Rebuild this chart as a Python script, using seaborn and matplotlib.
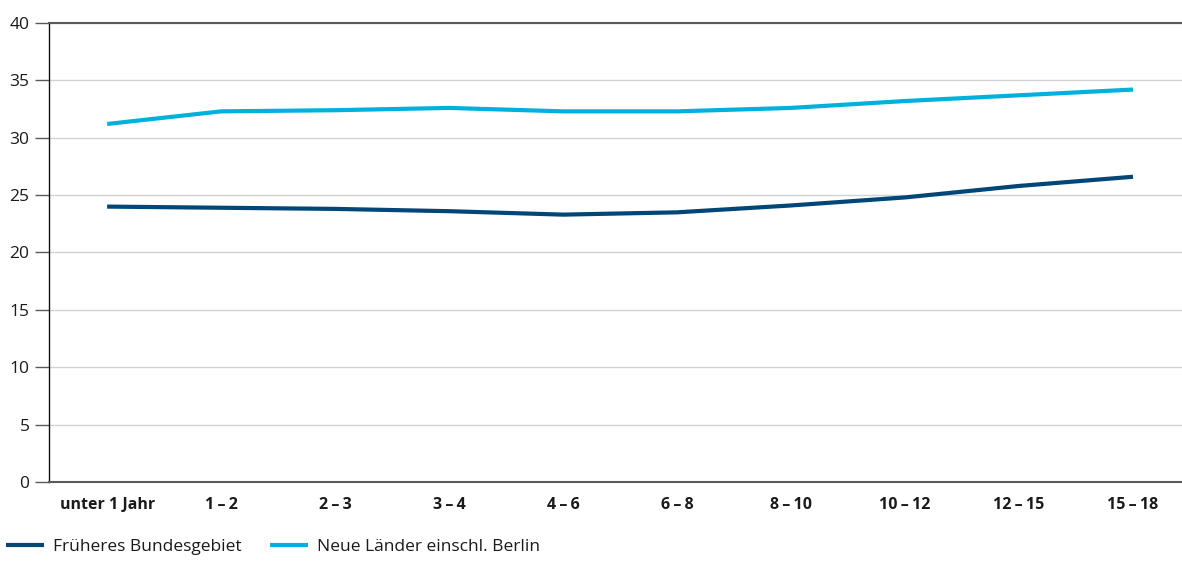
import matplotlib
matplotlib.use("Agg")
import matplotlib.pyplot as plt
import seaborn as sns
import pandas as pd

categories = ["unter 1 Jahr", "1\u2009\u2013\u20092", "2\u2009\u2013\u20093", "3\u2009\u2013\u20094",
              "4\u2009\u2013\u20096", "6\u2009\u2013\u20098", "8\u2009\u2013\u200910",
              "10\u2009\u2013\u200912", "12\u2009\u2013\u200915", "15\u2009\u2013\u200918"]
frueheres = [24.0, 23.9, 23.8, 23.6, 23.3, 23.5, 24.1, 24.8, 25.8, 26.6]
neue = [31.2, 32.3, 32.4, 32.6, 32.3, 32.3, 32.6, 33.2, 33.7, 34.2]
series_names = ["Früheres Bundesgebiet", "Neue Länder einschl. Berlin"]
yticks = [0, 5, 10, 15, 20, 25, 30, 35, 40]

df = pd.DataFrame({
    "Alter": categories * 2,
    "Wert": frueheres + neue,
    "Serie": [series_names[0]] * len(categories) + [series_names[1]] * len(categories),
})

sns.set_theme(style="white")
plt.rcParams["font.family"] = ["Open Sans", "DejaVu Sans"]

fig = plt.figure(figsize=(11.82, 5.61), dpi=100)
ax = fig.add_axes([49 / 1182, 79 / 561, 1 - 49 / 1182, (482 - 23) / 561])

palette = {series_names[0]: "#004676", series_names[1]: "#00b1dc"}
sns.lineplot(data=df, x="Alter", y="Wert", hue="Serie", palette=palette,
             linewidth=3.0, sort=False, ax=ax, legend=False)
for ln in ax.get_lines():
    ln.set_solid_capstyle("butt")

ax.set_ylim(0, 40)
ax.set_yticks(yticks)
ax.set_xlim(-0.51, 9.43)
ax.set_xlabel("")
ax.set_ylabel("")
ax.yaxis.grid(True, color="#d0d3d6", linewidth=1.0)
ax.set_axisbelow(True)

for s in ["top", "bottom"]:
    ax.spines[s].set_color("#5a5a5a")
    ax.spines[s].set_linewidth(1.5)
ax.spines["left"].set_color("#111111")
ax.spines["left"].set_linewidth(1.0)
ax.spines["right"].set_visible(False)

ax.tick_params(axis="y", direction="out", length=10, width=1, color="#5a5a5a",
               labelsize=12.5, labelcolor="#1a1a1a", pad=4, left=True)
ax.tick_params(axis="x", length=0, labelsize=11.5, labelcolor="#1a1a1a", pad=11)
for lbl in ax.get_xticklabels():
    lbl.set_fontweight("bold")

from matplotlib.lines import Line2D
handles = [Line2D([0], [0], color=palette[n], linewidth=3.0, solid_capstyle="butt")
           for n in series_names]
fig.legend(handles, series_names, loc="lower left", bbox_to_anchor=(6 / 1182, 6 / 561),
           borderaxespad=0, borderpad=0,
           ncol=2, frameon=False, fontsize=12.5, handlelength=2.2, handletextpad=0.5,
           columnspacing=1.65, labelcolor="#1a1a1a")

fig.savefig("out.png", dpi=100)
